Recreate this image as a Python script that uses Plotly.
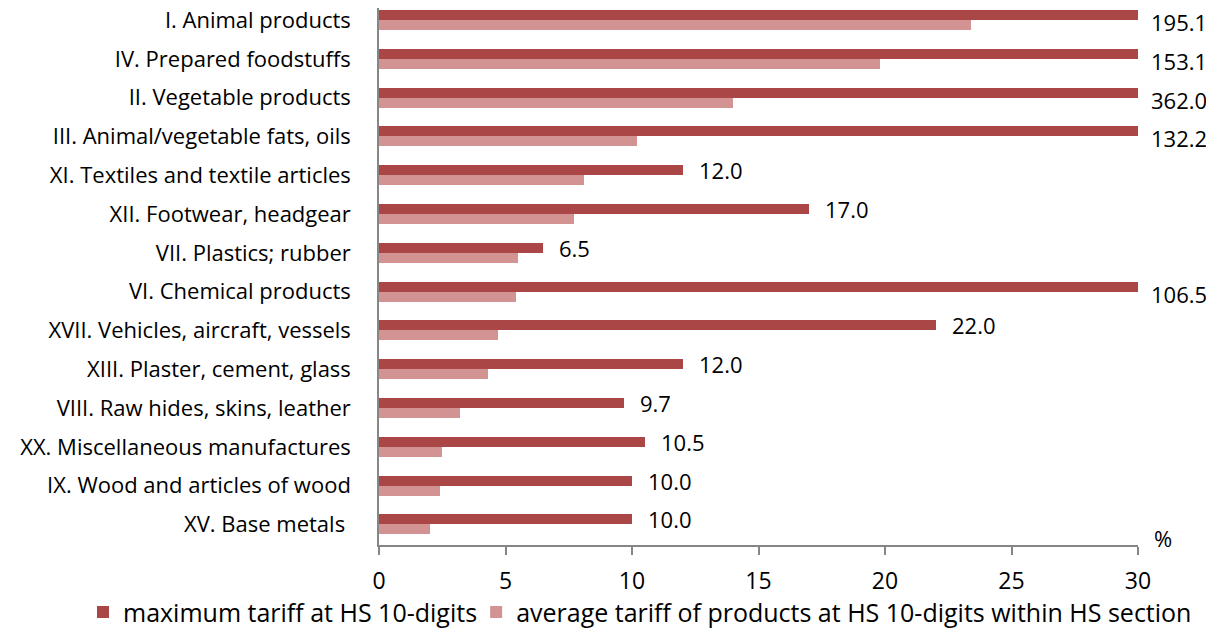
import plotly.graph_objects as go

categories = [
    "I. Animal products",
    "IV. Prepared foodstuffs",
    "II. Vegetable products",
    "III. Animal/vegetable fats, oils",
    "XI. Textiles and textile articles",
    "XII. Footwear, headgear",
    "VII. Plastics; rubber",
    "VI. Chemical products",
    "XVII. Vehicles, aircraft, vessels",
    "XIII. Plaster, cement, glass",
    "VIII. Raw hides, skins, leather",
    "XX. Miscellaneous manufactures",
    "IX. Wood and articles of wood",
    "XV. Base metals\u00a0",
]
max_tariff = [195.1, 153.1, 362.0, 132.2, 12.0, 17.0, 6.5, 106.5, 22.0, 12.0, 9.7, 10.5, 10.0, 10.0]
avg_tariff = [23.4, 19.8, 14.0, 10.2, 8.1, 7.7, 5.5, 5.4, 4.7, 4.3, 3.2, 2.5, 2.4, 2.0]
tick_vals = [0, 5, 10, 15, 20, 25, 30]
x_max = 30

DARK = "#AA4646"
LIGHT = "#D39393"
FONT = "Open Sans"
FS = 22
pos = list(range(len(categories)))
bw = 0.258

fig = go.Figure()
fig.add_trace(go.Bar(
    y=pos, x=max_tariff, orientation="h", name="maximum tariff at HS 10-digits",
    marker=dict(color=DARK, line=dict(width=0)), width=bw, offset=-bw, legend="legend",
))
fig.add_trace(go.Bar(
    y=pos, x=avg_tariff, orientation="h",
    name="average tariff of products at HS 10-digits within HS section",
    marker=dict(color=LIGHT, line=dict(width=0)), width=bw, offset=0, legend="legend2",
))

for i, v in enumerate(max_tariff):
    clipped = v > x_max
    fig.add_annotation(
        x=min(v, x_max), y=(i + 0.05) if clipped else (i - bw / 2),
        text=f"{v:.1f}", showarrow=False, xanchor="left", yanchor="middle",
        xshift=11 if clipped else 14, font=dict(family=FONT, size=FS, color="#000"),
    )

fig.add_annotation(
    x=x_max, y=13.53, text="%", showarrow=False,
    xanchor="left", yanchor="middle", xshift=14, yshift=7,
    font=dict(family=FONT, size=FS, color="#000"),
)

leg_common = dict(orientation="h", yanchor="middle", y=-0.125, itemwidth=30,
                  font=dict(family=FONT, size=25, color="#000"), bgcolor="rgba(0,0,0,0)")
fig.update_layout(
    width=1206, height=622,
    margin=dict(l=371, r=76, t=0, b=85, autoexpand=False),
    paper_bgcolor="white", plot_bgcolor="white",
    barmode="overlay", bargap=0,
    font=dict(family=FONT, size=FS, color="#000"),
    showlegend=True,
    legend=dict(x=-0.39, xanchor="left", **leg_common),
    legend2=dict(x=0.128, xanchor="left", **leg_common),
)
fig.update_xaxes(
    range=[0, x_max], tickvals=tick_vals, showgrid=False, zeroline=False,
    showline=True, linecolor="#868686", linewidth=1.5,
    ticks="outside", ticklen=8, tickcolor="#868686", tickwidth=1.5,
    tickfont=dict(family=FONT, size=23), ticklabelstandoff=7,
    ticklabeloverflow="allow",
)
fig.update_yaxes(
    range=[13.53, -0.31], tickvals=pos, ticktext=categories,
    showgrid=False, zeroline=False, showline=True, linecolor="#868686", linewidth=1.5,
    ticks="", tickfont=dict(family=FONT, size=FS), ticklabelstandoff=22,
    ticklabeloverflow="allow",
)

fig.write_html("out.html")
